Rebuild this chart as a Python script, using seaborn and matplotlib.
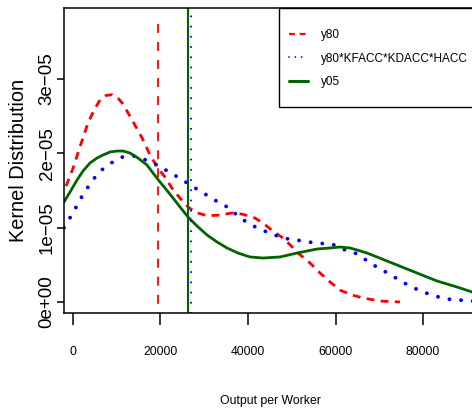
import matplotlib
matplotlib.use("Agg")
import matplotlib.pyplot as plt
import matplotlib.patches as mpatches
from matplotlib.lines import Line2D
from matplotlib import font_manager
import pandas as pd
import seaborn as sns

# kernel density of y80 (units of 1e-05)
y80_x = [-1600, 0, 1600, 3430, 4800, 6170, 7540, 8910, 10060, 11200, 12340,
         13490, 14630, 15770, 17600, 19200, 21030, 22860, 25140, 26510, 27890,
         30630, 33600, 36570, 38860, 41600, 43890, 45710, 48000, 49600, 51200,
         54170, 56460, 58740, 61030, 63770, 66290, 70170, 74740]
y80_y = [1.56, 1.80, 2.09, 2.41, 2.58, 2.72, 2.78, 2.79, 2.76, 2.68, 2.57,
         2.45, 2.33, 2.21, 1.98, 1.82, 1.68, 1.51, 1.35, 1.27, 1.21,
         1.16, 1.17, 1.20, 1.18, 1.13, 1.04, 0.955, 0.86, 0.77, 0.67,
         0.525, 0.39, 0.27, 0.16, 0.094, 0.054, 0.013, 0.0]

# kernel density of y80*KFACC*KDACC*HACC
acc_x = [-2057, 0, 1830, 3890, 5940, 8690, 11200, 13940, 16690, 19430, 21940,
         24690, 27200, 29710, 32460, 35200, 37490, 40000, 42740, 45490, 48000,
         50970, 53490, 56230, 59200, 61710, 64460, 66970, 69710, 72230, 74970,
         77490, 80000, 82740, 85490, 88230, 90970, 92100]
acc_y = [1.0, 1.2, 1.40, 1.59, 1.75, 1.87, 1.95, 1.965, 1.91, 1.84, 1.75,
         1.655, 1.56, 1.47, 1.37, 1.28, 1.17, 1.06, 0.98, 0.915, 0.86,
         0.835, 0.81, 0.79, 0.78, 0.71, 0.66, 0.565, 0.46, 0.38, 0.28,
         0.20, 0.135, 0.08, 0.04, 0.027, 0.013, 0.01]

# kernel density of y05
y05_x = [-2057, -686, 914, 2286, 3886, 5486, 6857, 8457, 10057, 11429, 13029,
         14857, 16914, 18286, 19886, 21029, 22857, 24457, 26286, 28343, 30629,
         32914, 35200, 37714, 40457, 43429, 47314, 51200, 55771, 58743, 61029,
         63314, 64914, 67200, 69486, 71771, 74057, 78629, 83200, 87771, 91200,
         92100]
y05_y = [1.346, 1.480, 1.642, 1.763, 1.871, 1.938, 1.978, 2.019, 2.032, 2.032,
         2.005, 1.938, 1.844, 1.736, 1.615, 1.534, 1.400, 1.279, 1.144, 1.023,
         0.902, 0.808, 0.727, 0.659, 0.606, 0.592, 0.606, 0.659, 0.713, 0.727,
         0.740, 0.727, 0.700, 0.659, 0.606, 0.552, 0.498, 0.390, 0.283, 0.202,
         0.135, 0.125]

# means shown as vertical lines
mean_y80 = 19430
mean_acc = 26910
mean_y05 = 26290
y80_mean_top = 3.81e-05

x_ticks = [0, 20000, 40000, 60000, 80000]
y_ticks = [0, 1e-05, 2e-05, 3e-05]
y_tick_labels = ["0e+00", "1e\u221205", "2e\u221205", "3e\u221205"]
labels = ["y80", "y80*KFACC*KDACC*HACC", "y05"]

RED = "#ff0000"
BLUE = "#0000ff"
GREEN = "#006400"

sns.set_style("ticks")
names = {f.name for f in font_manager.fontManager.ttflist}
if "Liberation Sans Narrow" in names:
    narrow = ["Liberation Sans Narrow", "DejaVu Sans"]
    nsize = 10.5
    lsize = 10.2
else:
    narrow = ["Liberation Sans", "DejaVu Sans"]
    nsize = 8.8
    lsize = 8.5
wide = ["Liberation Sans", "DejaVu Sans"]
plt.rcParams["font.family"] = wide
plt.rcParams["axes.unicode_minus"] = True
for key in ["text.color", "axes.labelcolor", "axes.edgecolor",
            "xtick.color", "ytick.color"]:
    plt.rcParams[key] = "black"

df = pd.concat([
    pd.DataFrame({"x": y80_x, "y": [v * 1e-05 for v in y80_y], "series": labels[0]}),
    pd.DataFrame({"x": acc_x, "y": [v * 1e-05 for v in acc_y], "series": labels[1]}),
    pd.DataFrame({"x": y05_x, "y": [v * 1e-05 for v in y05_y], "series": labels[2]}),
])

fig = plt.figure(figsize=(4.72, 4.15), dpi=100)
ax = fig.add_axes([64 / 472, 102 / 415, 412 / 472, 305 / 415])

sns.lineplot(data=df[df.series == labels[0]], x="x", y="y", ax=ax, color=RED,
             linewidth=2.0, linestyle=(0, (2.8, 2.3)), errorbar=None)
sns.lineplot(data=df[df.series == labels[1]], x="x", y="y", ax=ax, color=BLUE,
             linewidth=2.8, linestyle=(0, (0.01, 3.0)), dash_capstyle="round",
             errorbar=None)
sns.lineplot(data=df[df.series == labels[2]], x="x", y="y", ax=ax, color=GREEN,
             linewidth=2.0, errorbar=None)

ax.vlines(mean_y80, -1e-05, y80_mean_top, color=RED, linewidth=1.3,
          linestyles=[(0, (5, 5))])
ax.axvline(mean_y05, color=GREEN, linewidth=1.5)
ax.axvline(mean_acc, color=BLUE, linewidth=1.5, linestyle=(0, (0.01, 4.9)),
           dash_capstyle="round")

ax.set_xlim(-2057, 92114)
ax.set_ylim(-1.48e-06, 3.957e-05)
ax.set_xticks(x_ticks)
ax.set_xticklabels([str(t) for t in x_ticks], family=narrow, fontsize=nsize)
ax.set_yticks(y_ticks)
ax.set_yticklabels(y_tick_labels, rotation=90, va="center", fontsize=13.5)
ax.tick_params(axis="x", length=8.6, width=1.1, pad=15)
ax.tick_params(axis="y", length=5, width=1.1, pad=1)
for s in ax.spines.values():
    s.set_linewidth(1.1)
    s.set_visible(True)

ax.set_xlabel("Output per Worker", family=narrow, fontsize=nsize, labelpad=27)
ax.set_ylabel("Kernel Distribution", fontsize=14.3, labelpad=8)

box = mpatches.Rectangle((215 / 412, 206 / 305), 0.6, 99 / 305,
                         transform=ax.transAxes, facecolor="white",
                         edgecolor="black", linewidth=1.0, clip_on=False,
                         zorder=5)
ax.add_patch(box)
handles = [
    Line2D([], [], color=RED, linewidth=1.6, linestyle=(0, (2.6, 2.2))),
    Line2D([], [], color=BLUE, linewidth=1.3, linestyle=(0, (0.01, 3.5)),
           dash_capstyle="round"),
    Line2D([], [], color=GREEN, linewidth=2.2),
]
leg = ax.legend(handles=handles, labels=labels, loc="upper left",
                bbox_to_anchor=(225 / 412, 0.930), frameon=False, borderpad=0,
                borderaxespad=0, handlelength=1.65, handletextpad=1.05,
                labelspacing=0.95, prop={"family": narrow, "size": lsize})
leg.set_zorder(6)

fig.savefig("out.png", dpi=100)
